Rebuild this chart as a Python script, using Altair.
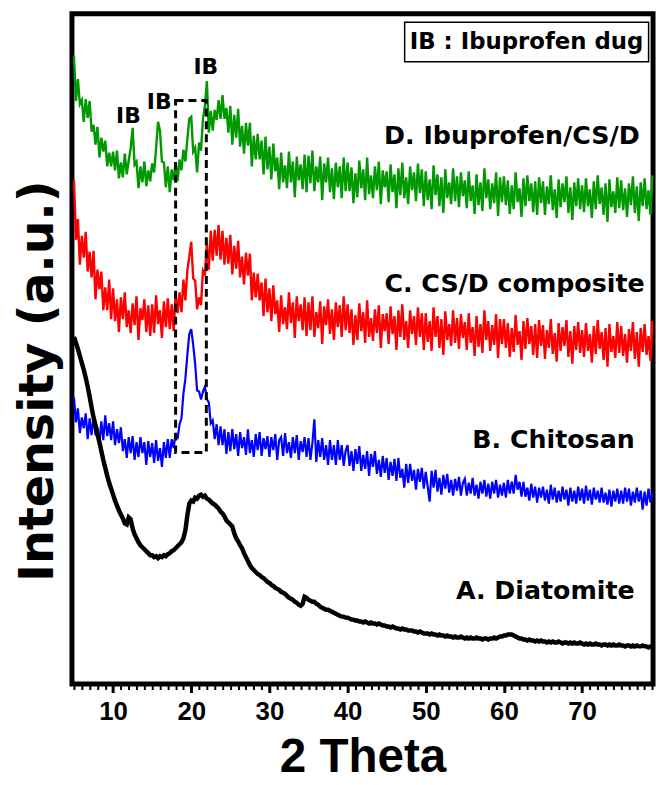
import altair as alt
import pandas as pd

# ---- x sampling of the diffraction patterns (degrees 2-theta) ----
TT_START = 5.0
TT_STEP = 0.25

# ---- intensities (a.u.), 5.0 ... 79.0 deg ----
green_d = [
    633, 588, 610, 585, 589, 567, 590, 571, 588, 557, 564, 544, 562, 531, 551, 537, 548, 522, 536, 522,
    537, 518, 538, 510, 526, 511, 535, 514, 528, 540, 561, 524, 527, 500, 522, 506, 527, 502, 518, 507,
    525, 516, 540, 567, 558, 527, 526, 501, 522, 496, 519, 508, 526, 507, 529, 518, 539, 527, 549, 570,
    572, 537, 541, 516, 546, 538, 570, 583, 608, 556, 578, 558, 579, 569, 589, 570, 594, 570, 581, 556,
    583, 544, 574, 551, 580, 542, 563, 535, 566, 543, 566, 522, 553, 529, 555, 529, 548, 514, 552, 519,
    542, 509, 545, 517, 531, 499, 536, 506, 523, 500, 537, 506, 527, 491, 532, 508, 524, 499, 534, 496,
    533, 505, 538, 497, 522, 506, 532, 488, 525, 506, 531, 496, 520, 489, 526, 501, 522, 490, 531, 497,
    526, 497, 521, 485, 515, 491, 528, 500, 519, 488, 531, 494, 513, 490, 522, 498, 527, 484, 518, 501,
    517, 486, 524, 496, 514, 480, 520, 493, 526, 490, 511, 484, 522, 498, 516, 487, 525, 495, 519, 482,
    517, 488, 509, 479, 523, 493, 514, 482, 511, 475, 519, 490, 506, 484, 520, 487, 512, 481, 516, 492,
    508, 480, 517, 487, 503, 474, 514, 483, 506, 477, 520, 490, 509, 479, 505, 485, 516, 472, 511, 486,
    512, 483, 508, 474, 503, 479, 516, 486, 500, 471, 510, 482, 513, 487, 505, 476, 507, 473, 511, 485,
    507, 473, 502, 484, 513, 478, 499, 470, 509, 481, 505, 486, 512, 475, 501, 468, 506, 482, 510, 479,
    503, 476, 510, 482, 499, 470, 507, 479, 513, 484, 501, 473, 505, 466, 509, 481, 497, 475, 511, 480,
    508, 478, 500, 471, 505, 483, 512, 475, 502, 467, 506, 482, 510, 479, 498, 473, 513,
]

red_c = [
    508, 448, 469, 423, 452, 430, 456, 416, 436, 410, 437, 388, 418, 398, 416, 377, 400, 377, 408, 368,
    399, 366, 388, 355, 390, 368, 395, 360, 377, 354, 384, 362, 391, 347, 379, 367, 388, 355, 382, 351,
    383, 354, 392, 363, 377, 349, 386, 360, 389, 358, 383, 356, 393, 374, 395, 375, 408, 387, 417, 431,
    446, 409, 407, 378, 390, 382, 417, 413, 444, 418, 457, 427, 458, 432, 463, 428, 457, 423, 450, 424,
    453, 413, 442, 419, 447, 410, 431, 403, 435, 412, 434, 387, 415, 390, 414, 387, 405, 371, 409, 375,
    399, 366, 402, 373, 387, 355, 392, 363, 380, 358, 395, 364, 385, 349, 391, 366, 383, 357, 390, 351,
    385, 357, 391, 350, 375, 359, 386, 343, 381, 362, 388, 353, 378, 347, 385, 360, 382, 350, 391, 357,
    383, 354, 378, 342, 372, 347, 384, 356, 375, 344, 387, 350, 369, 346, 378, 354, 382, 339, 373, 356,
    374, 343, 381, 353, 371, 337, 377, 350, 383, 347, 366, 339, 377, 353, 371, 342, 380, 350, 374, 337,
    374, 345, 366, 336, 380, 350, 371, 339, 368, 332, 376, 347, 363, 341, 377, 344, 369, 338, 373, 349,
    365, 337, 374, 344, 360, 331, 371, 340, 363, 334, 377, 347, 366, 336, 362, 342, 373, 329, 368, 343,
    368, 339, 364, 330, 359, 335, 372, 342, 356, 327, 366, 338, 369, 343, 361, 332, 363, 329, 367, 341,
    362, 328, 357, 339, 368, 333, 354, 325, 364, 336, 360, 341, 367, 330, 356, 323, 361, 337, 365, 334,
    357, 330, 364, 336, 353, 324, 361, 333, 367, 338, 355, 327, 359, 320, 363, 335, 351, 329, 365, 334,
    361, 331, 353, 324, 358, 336, 365, 328, 355, 320, 359, 335, 363, 332, 351, 326, 366,
]

blue_b = [
    289, 264, 278, 253, 269, 258, 273, 247, 268, 251, 270, 251, 259, 243, 265, 246, 271, 250, 263, 246,
    265, 241, 257, 243, 259, 235, 247, 228, 249, 233, 250, 226, 244, 229, 249, 233, 244, 221, 245, 229,
    243, 223, 246, 225, 238, 219, 244, 228, 247, 228, 247, 238, 253, 247, 262, 268, 293, 308, 332, 353,
    358, 342, 323, 296, 295, 287, 295, 300, 287, 284, 263, 266, 247, 262, 241, 260, 241, 257, 232, 254,
    235, 257, 237, 252, 230, 254, 238, 249, 231, 257, 233, 246, 229, 252, 236, 254, 230, 248, 237, 250,
    229, 249, 236, 252, 226, 246, 249, 230, 253, 233, 244, 228, 249, 233, 251, 226, 245, 234, 249, 229,
    248, 226, 243, 267, 224, 246, 229, 248, 226, 241, 221, 246, 226, 241, 221, 246, 226, 241, 220, 235,
    241, 220, 235, 215, 237, 222, 240, 215, 231, 217, 235, 210, 232, 219, 235, 212, 226, 209, 230, 213,
    228, 206, 224, 210, 227, 205, 228, 208, 217, 198, 222, 203, 222, 205, 216, 196, 217, 204, 218, 197,
    214, 199, 184, 215, 198, 216, 194, 208, 191, 211, 197, 212, 193, 206, 190, 207, 195, 209, 190, 203,
    207, 190, 203, 192, 208, 190, 201, 187, 204, 192, 206, 189, 202, 187, 204, 192, 206, 188, 201, 190,
    203, 188, 206, 192, 204, 192, 211, 196, 204, 189, 204, 189, 198, 185, 202, 188, 199, 183, 198, 188,
    199, 185, 196, 182, 201, 186, 198, 183, 195, 184, 199, 186, 196, 180, 198, 184, 195, 182, 199, 185,
    197, 182, 200, 185, 196, 181, 198, 186, 195, 183, 198, 183, 193, 181, 196, 179, 195, 184, 197, 182,
    195, 182, 198, 184, 197, 180, 194, 183, 198, 184, 195, 176, 194, 180, 197, 183, 192,
]

black_a = [
    350, 344, 338, 331, 324, 317, 309, 300, 290, 279, 269, 261, 252, 244, 235, 226, 218, 210, 203, 197,
    191, 185, 180, 175, 171, 167, 162, 161, 168, 166, 157, 151, 147, 143, 140, 138, 136, 134, 132, 130,
    130, 128, 129, 127, 129, 128, 130, 129, 131, 132, 134, 135, 137, 139, 141, 143, 147, 155, 170, 182,
    185, 184, 188, 187, 190, 191, 189, 190, 187, 186, 184, 182, 181, 179, 177, 174, 172, 169, 165, 163,
    161, 159, 152, 147, 144, 140, 137, 132, 128, 124, 120, 117, 115, 113, 111, 110, 108, 107, 105, 103,
    102, 100, 99, 97, 96, 95, 93, 92, 91, 89, 87, 86, 85, 83, 82, 80, 79, 81, 88, 87,
    85, 84, 83, 83, 81, 80, 78, 77, 76, 75, 75, 74, 73, 72, 71, 70, 69, 68, 68, 67,
    67, 66, 65, 65, 64, 64, 63, 63, 62, 63, 62, 61, 62, 61, 61, 60, 61, 60, 59, 59,
    58, 58, 57, 58, 57, 56, 56, 55, 56, 55, 55, 54, 54, 54, 53, 53, 52, 53, 52, 51,
    51, 51, 50, 51, 50, 50, 49, 50, 49, 49, 48, 49, 48, 48, 47, 48, 47, 47, 48, 47,
    46, 47, 46, 47, 46, 46, 47, 46, 46, 45, 46, 46, 45, 46, 46, 47, 46, 47, 48, 48,
    49, 49, 50, 50, 50, 49, 48, 47, 46, 46, 45, 45, 44, 45, 44, 44, 43, 44, 43, 44,
    43, 43, 42, 43, 42, 43, 42, 42, 43, 42, 41, 42, 42, 41, 42, 41, 42, 41, 41, 42,
    41, 40, 41, 40, 41, 40, 40, 41, 40, 40, 39, 40, 40, 39, 40, 39, 40, 39, 39, 40,
    39, 39, 38, 39, 39, 38, 39, 38, 39, 38, 38, 39, 38, 38, 37, 38, 38,
]

for s in (green_d, red_c, blue_b, black_a):
    assert len(s) == 297, len(s)

# ---- axes / annotation values ----
X_DOMAIN = [4.74, 79.08]
Y_DOMAIN = [0, 676]
MAJOR_TICKS = [10, 20, 30, 40, 50, 60, 70]
MINOR_TICKS = list(range(5, 80))

series_labels = ["D. Ibuprofen/CS/D", "C. CS/D composite", "B. Chitosan", "A. Diatomite"]
series_label_x = [77.36, 78.0, 76.73, 76.73]
series_label_y = [552.5, 403.5, 246.5, 93.5]

ib_labels = ["IB", "IB", "IB"]
ib_x = [11.97, 15.90, 21.87]
ib_y = [572.5, 586.5, 622.5]

bracket = {"x": [18.0], "x2": [21.93], "y": [588.5], "y2": [233.5]}
legend_box = {"x": [47.30], "x2": [78.51], "y": [667.5], "y2": [627.5]}
legend_text = {"label": ["IB : Ibuprofen dug"], "x": [62.9], "y": [647.5]}


def pattern(vals, name):
    return pd.DataFrame({
        "two_theta": [TT_START + TT_STEP * i for i in range(len(vals))],
        "intensity": vals,
        "series": name,
    })


xs = alt.Scale(domain=X_DOMAIN, nice=False, zero=False)
ys = alt.Scale(domain=Y_DOMAIN, nice=False, zero=False)

yaxis = alt.Axis(
    title="Intensity (a.u.)", ticks=False, labels=False, domain=False, grid=False,
    titleFont="DejaVu Sans", titleFontSize=48, titleFontWeight="bold", titleColor="black",
    titleAngle=270, titleAlign="center", titleBaseline="alphabetic", titleX=-20, titleY=370,
)
major_axis = alt.Axis(
    values=MAJOR_TICKS, orient="bottom", title="2 Theta", grid=False, domain=False,
    tickSize=8.5, tickWidth=3, tickColor="black",
    labelFont="Liberation Sans", labelFontSize=26, labelFontWeight="bold", labelColor="black",
    labelPadding=6, labelFlush=False, labelOverlap=False,
    titleFont="Liberation Sans", titleFontSize=48, titleFontWeight="bold", titleColor="black",
    titleX=293, titleY=88.5, titleBaseline="alphabetic", titleAlign="center",
)
minor_axis = alt.Axis(
    values=MINOR_TICKS, orient="bottom", title="", grid=False, domain=False, labels=False,
    tickSize=5.5, tickWidth=2, tickColor="black",
)


def line_layer(vals, name, color, width, axis):
    return alt.Chart(pattern(vals, name)).mark_line(color=color, strokeWidth=width).encode(
        x=alt.X("two_theta:Q", scale=xs, axis=axis),
        y=alt.Y("intensity:Q", scale=ys, axis=yaxis),
        order="two_theta:Q",
    )


l_green = line_layer(green_d, "D", "#009900", 2.4, major_axis)
l_red = line_layer(red_c, "C", "#ff0000", 2.4, None)
l_blue = line_layer(blue_b, "B", "#0000ff", 2.2, minor_axis)
l_black = line_layer(black_a, "A", "#000000", 4.5, None)

bracket_layer = alt.Chart(pd.DataFrame(bracket)).mark_rect(
    filled=False, color="black", strokeWidth=3, strokeDash=[8, 5]
).encode(
    x=alt.X("x:Q", scale=xs, axis=None), x2="x2:Q",
    y=alt.Y("y:Q", scale=ys, axis=yaxis), y2="y2:Q",
)

box_layer = alt.Chart(pd.DataFrame(legend_box)).mark_rect(
    filled=False, color="black", strokeWidth=1.5
).encode(
    x=alt.X("x:Q", scale=xs, axis=None), x2="x2:Q",
    y=alt.Y("y:Q", scale=ys, axis=yaxis), y2="y2:Q",
)

box_text = alt.Chart(pd.DataFrame(legend_text)).mark_text(
    font="DejaVu Sans", fontSize=23, fontWeight="bold", color="black", align="center", baseline="middle"
).encode(
    x=alt.X("x:Q", scale=xs, axis=None),
    y=alt.Y("y:Q", scale=ys, axis=yaxis),
    text="label:N",
)

ib_text = alt.Chart(pd.DataFrame({"label": ib_labels, "x": ib_x, "y": ib_y})).mark_text(
    font="DejaVu Sans", fontSize=22, fontWeight="bold", color="black", align="center", baseline="middle"
).encode(
    x=alt.X("x:Q", scale=xs, axis=None),
    y=alt.Y("y:Q", scale=ys, axis=yaxis),
    text="label:N",
)

series_text = alt.Chart(pd.DataFrame({"label": series_labels, "x": series_label_x, "y": series_label_y})).mark_text(
    font="DejaVu Sans", fontSize=25.5, fontWeight="bold", color="black", align="right", baseline="middle"
).encode(
    x=alt.X("x:Q", scale=xs, axis=None),
    y=alt.Y("y:Q", scale=ys, axis=yaxis),
    text="label:N",
)

chart = alt.layer(
    l_green, l_red, l_blue, l_black, bracket_layer, box_layer, box_text, ib_text, series_text
).resolve_axis(x="independent").properties(
    width=586, height=676,
    autosize=alt.AutoSizeParams(type="none"),
    padding={"left": 64.5, "top": 2.5, "right": 6, "bottom": 98},
    background="white",
).configure_view(stroke="black", strokeWidth=5)

chart.save("out.html", embed_options={"renderer": "svg", "actions": False})
